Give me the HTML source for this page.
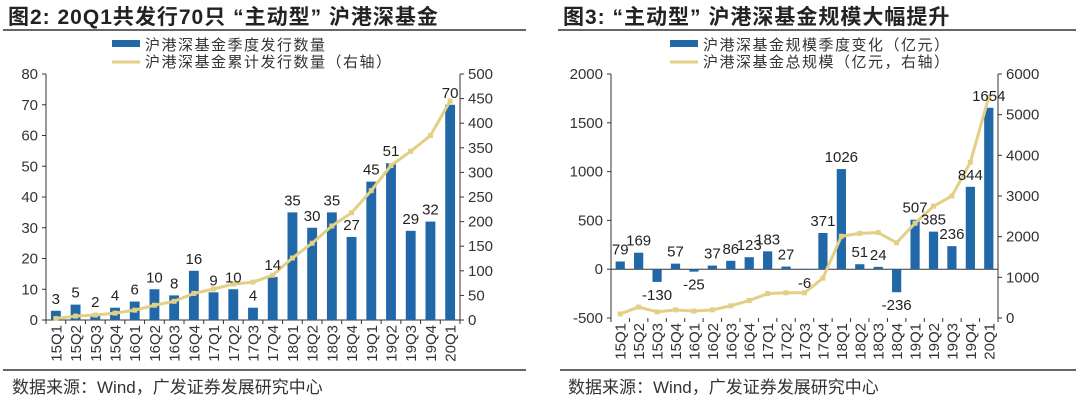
<!DOCTYPE html>
<html><head><meta charset="utf-8"><style>
body{margin:0;background:#fff;width:1080px;height:401px;overflow:hidden;font-family:"Liberation Sans","Noto Sans CJK SC",sans-serif}
svg text{font-family:"Liberation Sans","Noto Sans CJK SC",sans-serif}
</style></head><body>
<svg id="c" width="1080" height="401">
<text x="8" y="24" font-size="21" font-weight="bold" letter-spacing="1" fill="#222">图2:  20Q1共发行70只 “主动型” 沪港深基金</text>
<line x1="3" y1="30" x2="526" y2="30" stroke="#333" stroke-width="1.5"/>
<text x="563" y="24" font-size="21" font-weight="bold" letter-spacing="1" fill="#222">图3:  “主动型” 沪港深基金规模大幅提升</text>
<line x1="558" y1="30" x2="1076" y2="30" stroke="#333" stroke-width="1.5"/>
<line x1="3" y1="370" x2="526" y2="370" stroke="#333" stroke-width="1.5"/>
<line x1="560" y1="370" x2="1076" y2="370" stroke="#333" stroke-width="1.5"/>
<text x="12" y="393" font-size="17" fill="#333">数据来源：Wind，广发证券发展研究中心</text>
<text x="568" y="393" font-size="17" fill="#333">数据来源：Wind，广发证券发展研究中心</text>
<g>
<rect x="112" y="40" width="28" height="7" fill="#2068a8"/>
<text x="145" y="50" font-size="15" letter-spacing="1.5" fill="#333">沪港深基金季度发行数量</text>
<line x1="112" y1="62" x2="140" y2="62" stroke="#e3cf86" stroke-width="3"/>
<text x="145" y="67" font-size="15" letter-spacing="1.5" fill="#333">沪港深基金累计发行数量（右轴）</text>
</g>
<g>
<rect x="670" y="40" width="28" height="7" fill="#2068a8"/>
<text x="703" y="50" font-size="15" letter-spacing="1.5" fill="#333">沪港深基金规模季度变化（亿元）</text>
<line x1="670" y1="62" x2="698" y2="62" stroke="#e3cf86" stroke-width="3"/>
<text x="703" y="67" font-size="15" letter-spacing="1.5" fill="#333">沪港深基金总规模（亿元，右轴）</text>
</g>
</svg>
<script>
const cats=["15Q1","15Q2","15Q3","15Q4","16Q1","16Q2","16Q3","16Q4","17Q1","17Q2","17Q3","17Q4","18Q1","18Q2","18Q3","18Q4","19Q1","19Q2","19Q3","19Q4","20Q1"];
const leftBars=[3,5,2,4,6,10,8,16,9,10,4,14,35,30,35,27,45,51,29,32,70];
const leftLine=[3,8,10,14,20,30,38,54,63,73,77,91,126,156,191,218,263,314,343,375,445];
const leftTicksL=[0,10,20,30,40,50,60,70,80];
const leftTicksR=[0,50,100,150,200,250,300,350,400,450,500];
const rightBars=[79,169,-130,57,-25,37,86,123,183,27,-6,371,1026,51,24,-236,507,385,236,844,1654];
const rightLine=[100,270,150,200,170,200,300,430,600,620,620,980,2010,2080,2100,1850,2330,2750,3000,3830,5430];
const rightTicksL=[-500,0,500,1000,1500,2000];
const rightTicksR=[0,1000,2000,3000,4000,5000,6000];
const NS="http://www.w3.org/2000/svg";
const svg=document.getElementById('c');
function mk(t,a,p){const e=document.createElementNS(NS,t);for(const k in a)e.setAttribute(k,a[k]);(p||svg).appendChild(e);return e;}
function chart(o){
  const g=mk('g',{});
  
  
  const yL=v=>o.y0+(v-o.lmin)/(o.lmax-o.lmin)*(o.y1-o.y0);
  const yR=v=>o.y0+(v-o.rmin)/(o.rmax-o.rmin)*(o.y1-o.y0);
  const n=cats.length,slot=(o.x1-o.x0)/n;
  const xc=i=>o.x0+slot*(i+0.5);
  const la=mk('line',{x1:o.x0,y1:o.y0,x2:o.x0,y2:o.y1,stroke:'#333'},g);
  
  const ra=mk('line',{x1:o.x1,y1:o.y0,x2:o.x1,y2:o.y1,stroke:'#333'},g);
  
  const xa=mk('line',{x1:o.x0,y1:yL(0),x2:o.x1,y2:yL(0),stroke:'#333'},g);
  
  o.tl.forEach(v=>{mk('line',{x1:o.x0-4,x2:o.x0,y1:yL(v),y2:yL(v),stroke:'#333'},g);
    const t=mk('text',{x:o.x0-8,y:yL(v)+5,'font-size':15,'text-anchor':'end',fill:'#333'},g);t.textContent=v;
    });
  o.tr.forEach(v=>{mk('line',{x1:o.x1,x2:o.x1+4,y1:yR(v),y2:yR(v),stroke:'#333'},g);
    const t=mk('text',{x:o.x1+8,y:yR(v)+5,'font-size':15,fill:'#333'},g);t.textContent=v;
    });
  for(let i=0;i<=n;i++)mk('line',{x1:o.x0+slot*i,x2:o.x0+slot*i,y1:o.y0,y2:o.y0+4,stroke:'#333'},g);
  cats.forEach((c,i)=>{const t=mk('text',{x:0,y:0,'font-size':15,'text-anchor':'end',fill:'#333',transform:`translate(${xc(i)+5.5},${o.y0+5}) rotate(-90)`},g);t.textContent=c;
    });
  const bw=slot*0.5;
  o.bars.forEach((v,i)=>{const a=yL(0),b=yL(v);
    const r=mk('rect',{x:xc(i)-bw/2,y:Math.min(a,b),width:bw,height:Math.abs(a-b),fill:'#2068a8'},g);
    });
  const pts=o.line.map((v,i)=>xc(i)+','+yR(v)).join(' ');
  const pl=mk('polyline',{points:pts,fill:'none',stroke:'#e3cf86','stroke-width':3},g);
  
  o.line.forEach((v,i)=>{const m=mk('rect',{x:xc(i)-2.5,y:yR(v)-2.5,width:5,height:5,fill:'#e3cf86'},g);
    });
  o.bars.forEach((v,i)=>{const b=yL(v);const y=v>=0?b-7:b+18;
    const t=mk('text',{x:xc(i),y:y,'font-size':15,'text-anchor':'middle',fill:'#222'},g);t.textContent=v;
    });
}
chart({name:'left-chart',x0:46,x1:460,y0:320,y1:74,lmin:0,lmax:80,rmin:0,rmax:500,tl:leftTicksL,tr:leftTicksR,bars:leftBars,line:leftLine});
chart({name:'right-chart',x0:611,x1:998,y0:318,y1:74,lmin:-500,lmax:2000,rmin:0,rmax:6000,tl:rightTicksL,tr:rightTicksR,bars:rightBars,line:rightLine});
</script>
</body></html>
